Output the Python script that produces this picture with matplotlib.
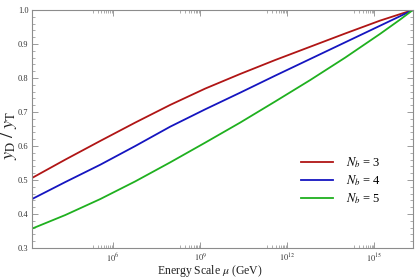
import numpy as np
import matplotlib
matplotlib.use("Agg")
from matplotlib import pyplot as plt
from matplotlib.ticker import FixedLocator, NullFormatter

plt.rcParams['font.family'] = ['Liberation Serif', 'DejaVu Serif']
plt.rcParams['mathtext.fontset'] = 'stix'

# data (log10 of mu in GeV)
log_mu = [3.214, 4.359, 5.563, 6.767, 7.971, 9.175, 10.379, 11.583, 12.787, 13.991, 15.195, 15.883, 16.32]
yratio_nb3 = [0.506, 0.560, 0.615, 0.669, 0.721, 0.769, 0.812, 0.853, 0.892, 0.931, 0.969, 0.988, 1.0]
yratio_nb4 = [0.444, 0.494, 0.545, 0.600, 0.657, 0.708, 0.757, 0.807, 0.856, 0.905, 0.954, 0.982, 1.0]
yratio_nb5 = [0.357, 0.397, 0.444, 0.496, 0.552, 0.610, 0.669, 0.731, 0.794, 0.860, 0.930, 0.972, 1.0]
labels = ["$N_b$ = 3", "$N_b$ = 4", "$N_b$ = 5"]
colors = ["#b01515", "#1515c0", "#1fb01f"]
major_exp = [6, 9, 12, 15]

mu = 10.0 ** np.array(log_mu)

fig = plt.figure(figsize=(4.17, 2.79), dpi=100)
ax = fig.add_axes([0.0767, 0.111, 0.9133, 0.853])

for ys, lab, c in zip([yratio_nb3, yratio_nb4, yratio_nb5], labels, colors):
    ax.plot(mu, ys, color=c, lw=1.3, label=lab)

ax.set_xscale("log")
ax.set_xlim(mu[0], mu[-1])
ax.set_ylim(0.3, 1.0)

# mathematica-ish log ticks: majors every 3 decades, minors just below each
ax.xaxis.set_major_locator(FixedLocator([10.0 ** e for e in major_exp]))
ax.set_xticklabels(["$10^{%d}$" % e for e in major_exp])
minors = [k * 10.0 ** (e - 1) for e in major_exp for k in range(2, 10)]
ax.xaxis.set_minor_locator(FixedLocator(minors))
ax.xaxis.set_minor_formatter(NullFormatter())

ax.set_yticks(np.arange(0.3, 1.01, 0.1))
ax.set_yticklabels(["%.1f" % v for v in np.arange(0.3, 1.01, 0.1)])
ax.set_yticks(np.arange(0.3, 1.001, 0.02), minor=True)

grey = "#8c8c8c"
for s in ax.spines.values():
    s.set_color(grey)
    s.set_linewidth(0.8)
ax.tick_params(which="both", direction="in", top=True, right=True, colors=grey,
               labelcolor="#333333", labelsize=6, pad=2.5)
ax.tick_params(which="major", length=4, width=0.6)
ax.tick_params(which="minor", length=2, width=0.5)

ax.set_xlabel(r"Energy Scale $\mu$ (GeV)", fontsize=8.5, color="#222222")
ax.xaxis.set_label_coords(0.467, -0.062)
ax.set_ylabel(r"$y_{\rm D}\ /\ y_{\rm T}$", fontsize=13, color="#222222")
ax.yaxis.set_label_coords(-0.035, 0.475)

ax.legend(loc="lower right", bbox_to_anchor=(0.945, 0.13), frameon=False, fontsize=9,
          handlelength=2.6, handletextpad=1.0, labelspacing=0.25)

fig.savefig("out.png", dpi=100)
